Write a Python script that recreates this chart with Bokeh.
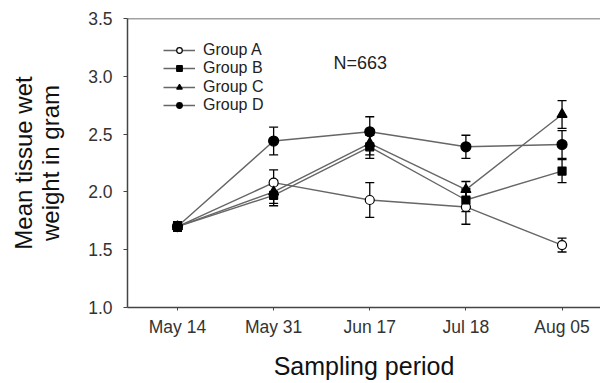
from bokeh.plotting import figure
from bokeh.models import (ColumnDataSource, Whisker, TeeHead, Legend, LegendItem,
                          FixedTicker, Span, Label, NumeralTickFormatter)
from bokeh.embed import file_html
from bokeh.resources import INLINE

# ---- data ----
periods = ["May 14", "May 31", "Jun 17", "Jul 18", "Aug 05"]
group_names = ["Group A", "Group B", "Group C", "Group D"]
group_a = [1.70, 2.08, 1.93, 1.87, 1.54]
group_a_err = [0.04, 0.11, 0.15, 0.15, 0.06]
group_b = [1.70, 1.97, 2.39, 1.93, 2.18]
group_b_err = [0.04, 0.09, 0.10, 0.10, 0.10]
group_c = [1.70, 2.00, 2.42, 2.02, 2.67]
group_c_err = [0.04, 0.10, 0.10, 0.07, 0.12]
group_d = [1.70, 2.44, 2.52, 2.39, 2.41]
group_d_err = [0.04, 0.12, 0.13, 0.10, 0.12]
y_ticks = [1.0, 1.5, 2.0, 2.5, 3.0, 3.5]
annotation = "N=663"

FONT = "Liberation Sans"
xs = list(range(len(periods)))

p = figure(width=600, height=383, output_backend="svg", toolbar_location=None,
           x_range=(-0.52, 4.4), y_range=(1.0, 3.5),
           min_border_left=127, min_border_right=0, min_border_top=18,
           min_border_bottom=76)
p.outline_line_color = None
p.xgrid.visible = False
p.ygrid.visible = False
p.background_fill_color = "white"

# axes
p.xaxis.ticker = FixedTicker(ticks=xs)
p.xaxis.major_label_overrides = {i: lab for i, lab in enumerate(periods)}
p.yaxis.ticker = FixedTicker(ticks=y_ticks)
p.yaxis.formatter = NumeralTickFormatter(format="0.0")
for ax in (p.xaxis, p.yaxis):
    ax.axis_line_color = "#444444"
    ax.axis_line_width = 1.5
    ax.major_tick_line_color = "#444444"
    ax.major_tick_line_width = 1
    ax.major_tick_out = 4
    ax.major_tick_in = 0
    ax.minor_tick_line_color = None
    ax.major_label_text_font = FONT
    ax.major_label_text_font_size = "17.5px"
    ax.major_label_text_color = "#333333"
    ax.axis_label_text_font = FONT
    ax.axis_label_text_font_style = "normal"
    ax.axis_label_text_color = "#111111"
p.xaxis.major_tick_out = 3
p.xaxis.major_label_standoff = 6
p.yaxis.major_label_standoff = 11
p.xaxis.axis_label = "Sampling period"
p.xaxis.axis_label_text_font_size = "25px"
p.xaxis.axis_label_standoff = 12
p.yaxis.axis_label = "Mean tissue wet\nweight in gram"
p.yaxis.axis_label_text_font_size = "24px"
p.yaxis.axis_label_text_line_height = 1.0
p.yaxis.axis_label_standoff = 21

# top border line
p.add_layout(Span(location=3.5, dimension="width", line_color="#444444", line_width=1.5))

series = [
    (group_a, group_a_err, "circle", "white", 9),
    (group_b, group_b_err, "square", "black", 8),
    (group_c, group_c_err, "triangle", "black", 10),
    (group_d, group_d_err, "circle", "black", 10),
]

line_rs = []
sources = []
for vals, errs, marker, fill, size in series:
    src = ColumnDataSource(dict(
        x=xs, y=vals,
        lower=[v - e for v, e in zip(vals, errs)],
        upper=[v + e for v, e in zip(vals, errs)],
    ))
    sources.append(src)
    r = p.line("x", "y", source=src, line_color="#666666", line_width=1.4)
    line_rs.append(r)

for src in sources:
    w = Whisker(source=src, base="x", lower="lower", upper="upper",
                line_color="black", line_width=1.3,
                upper_head=TeeHead(size=9, line_color="black", line_width=1.3),
                lower_head=TeeHead(size=9, line_color="black", line_width=1.3))
    p.add_layout(w)

# one single-row legend per group so rows can sit closer than Bokeh's row height
legend_y = [248, 229.6, 211.2, 192.8]
for (vals, errs, marker, fill, size), src, lr, name, ly in zip(series, sources, line_rs,
                                                               group_names, legend_y):
    m = p.scatter("x", "y", source=src, marker=marker, size=size,
                  fill_color=fill, line_color="black", line_width=1.2)
    leg = Legend(items=[LegendItem(label=name, renderers=[lr, m])],
                 location=(36, ly), padding=0, spacing=0,
                 glyph_width=32, glyph_height=14, label_height=14,
                 label_standoff=8, border_line_color=None,
                 background_fill_alpha=0,
                 label_text_font=FONT, label_text_font_size="16px",
                 label_text_color="#222222")
    p.add_layout(leg)

p.add_layout(Label(x=206, y=245, x_units="screen", y_units="screen", text=annotation,
                   text_font=FONT, text_font_size="18px", text_color="#222222",
                   text_baseline="middle"))

open("out.html", "w").write(file_html(p, INLINE))
